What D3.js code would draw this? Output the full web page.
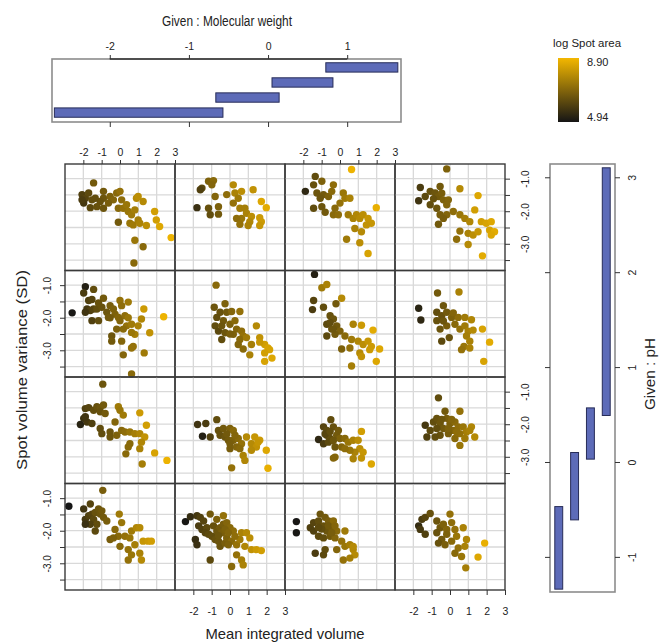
<!DOCTYPE html>
<html>
<head>
<meta charset="utf-8">
<script src="https://cdn.jsdelivr.net/npm/d3@7"></script>
<style>
body { margin: 0; background: #fff; }
svg { font-family: "Liberation Sans", Arial, sans-serif; }
.tick text { fill: #222; }
</style>
</head>
<body>
<div id="chart"></div>
<script>
// ---- values ----
const xTickVals = [-2, -1, 0, 1, 2, 3];
const xTickLabels = ["-2", "-1", "0", "1", "2", "3"];
const yTickVals = [-1, -1.5, -2, -2.5, -3, -3.5];
const yTickLabels = ["-1.0", "", "-2.0", "", "-3.0", ""];
const mwTicks = [-2, -1, 0, 1];
const mwTickLabels = ["-2", "-1", "0", "1"];
const mwIntervals = [[-2.70, -0.57], [-0.66, 0.14], [0.05, 0.82], [0.73, 1.64]];
const phTicks = [-1, 0, 1, 2, 3];
const phTickLabels = ["-1", "0", "1", "2", "3"];
const phIntervals = [[-1.34, -0.47], [-0.61, 0.10], [0.03, 0.57], [0.49, 3.10]];
const areaRange = [4.94, 8.90];
const areaLabels = ["4.94", "8.90"];

// [mean integrated volume, spot volume SD, log spot area]
// ph1 = bottom row of panels, mw1 = left column
const ph4_mw1 = [[-1.44,-1.13,6.6],[-2.07,-1.49,6.0],[-1.89,-1.60,6.1],[-1.98,-1.75,5.8],[-1.71,-1.44,6.2],[-1.53,-1.65,6.3],[-2.07,-1.65,5.9],[-1.62,-1.89,6.2],[-0.90,-1.39,6.6],[-0.90,-1.60,6.5],[-1.08,-1.70,6.4],[-1.26,-1.86,6.4],[-0.90,-1.91,6.5],[-0.54,-1.55,6.8],[-0.36,-1.65,6.9],[-0.18,-1.44,7.0],[0,-1.39,7.2],[0.09,-1.65,7.1],[-0.09,-1.91,7.0],[0.18,-1.91,7.2],[0.36,-1.80,7.3],[0.45,-2.01,7.3],[0.63,-2.11,7.4],[0.81,-1.96,7.5],[0.90,-1.60,7.8],[0.99,-1.55,7.9],[1.26,-1.70,7.8],[0.99,-2.27,7.5],[0.54,-2.37,7.3],[0.72,-2.42,7.4],[1.08,-2.37,7.6],[1.44,-2.44,7.9],[-0.09,-2.34,6.6],[1.89,-2.01,8.3],[1.98,-2.27,8.3],[2.16,-2.47,8.5],[2.79,-2.81,8.8],[0.81,-2.89,7.3],[1.26,-3.09,7.0],[0.76,-3.59,7.0],[-1.35,-1.60,6.3],[-0.63,-1.75,6.7]];
const ph4_mw2 = [[-1.53,-1.29,6.2],[-1.17,-1.08,6.8],[-0.90,-1.06,7.0],[-0.99,-1.19,6.9],[-1.62,-1.34,6.0],[-1.80,-1.89,5.6],[-1.17,-1.91,6.4],[-0.63,-1.86,6.8],[-0.63,-2.09,6.6],[-1.08,-2.11,6.3],[-0.81,-1.55,6.9],[-0.18,-1.49,7.1],[0.18,-1.19,7.8],[0.27,-1.44,7.6],[0.63,-1.39,7.9],[0.45,-1.60,7.4],[0.18,-1.75,7.2],[0.54,-1.91,7.5],[0.81,-1.91,7.5],[0.90,-2.06,7.6],[0.63,-2.22,7.3],[0.36,-2.22,7.1],[1.17,-2.16,7.9],[1.62,-2.20,8.2],[1.71,-2.32,8.2],[1.08,-2.32,7.7],[0.54,-2.40,7.2],[0.99,-2.44,7.6],[1.62,-2.44,8.1],[1.71,-1.70,8.5],[1.98,-1.89,8.6],[1.26,-1.34,8.0]];
const ph4_mw3 = [[-1.35,-0.93,6.3],[-1.89,-1.39,5.4],[-1.44,-1.19,6.4],[-0.99,-1.08,6.8],[-1.26,-1.44,6.5],[-0.90,-1.49,6.6],[-0.63,-1.55,6.8],[-0.36,-1.19,7.1],[-0.45,-1.39,7.0],[-1.44,-1.91,6.3],[-0.99,-1.86,6.5],[-0.81,-2.03,6.6],[-0.36,-2.11,7.0],[-0.09,-2.11,7.1],[-0.27,-1.91,7.0],[0,-1.75,7.2],[0.18,-1.44,7.3],[0.27,-1.60,7.4],[0.54,-1.60,7.6],[0.45,-2.11,7.4],[0.72,-2.22,7.6],[0.90,-2.11,7.7],[1.08,-2.22,7.8],[1.26,-2.11,7.9],[1.53,-2.22,8.1],[1.71,-2.37,8.1],[1.44,-2.42,8.0],[0.81,-2.53,7.6],[1.17,-2.63,7.8],[0.63,-0.72,8.8],[1.98,-1.89,8.7],[0.36,-2.86,7.4],[1.08,-2.97,7.9],[1.53,-3.30,8.4],[-1.08,-1.60,6.5]];
const ph4_mw4 = [[-0.18,-0.70,6.8],[-1.62,-1.27,5.9],[-1.71,-1.68,5.7],[-1.35,-1.55,6.2],[-1.08,-1.39,6.4],[-0.81,-1.44,6.5],[-0.54,-1.24,6.6],[-0.63,-1.55,6.6],[-0.36,-1.65,6.8],[-0.09,-1.65,6.9],[-0.18,-1.80,6.9],[-1.08,-1.80,6.3],[-0.72,-1.91,6.5],[0.18,-2.01,7.1],[0.54,-2.11,7.3],[0.81,-2.22,7.5],[1.08,-2.32,7.7],[-0.18,-2.11,6.9],[-0.36,-2.22,6.7],[-0.54,-2.11,6.7],[0.54,-1.31,7.8],[1.53,-1.52,8.5],[1.35,-1.96,8.3],[-0.63,-2.40,6.6],[0.54,-2.61,7.2],[0.99,-2.68,7.6],[1.26,-2.73,7.9],[1.53,-2.63,8.1],[1.71,-2.32,8.3],[1.98,-2.37,8.4],[2.25,-2.32,8.5],[2.16,-2.58,8.4],[2.43,-2.63,8.6],[2.25,-2.73,8.5],[0.36,-2.86,7.1],[0.99,-3.02,7.8],[1.77,-3.37,8.6],[-0.90,-1.62,6.4],[-0.45,-1.45,6.7]];

const ph3_mw1 = [[-2.61,-1.85,5.0],[-1.89,-1.05,5.2],[-1.98,-1.24,5.9],[-1.44,-1.13,6.3],[-1.71,-1.47,6.0],[-1.53,-1.44,6.1],[-1.80,-1.73,5.8],[-1.62,-1.78,6.0],[-1.89,-1.83,5.7],[-1.44,-1.73,6.1],[-1.53,-2.09,6.0],[-1.17,-2.09,6.3],[-1.26,-1.73,6.3],[-0.90,-1.40,6.6],[-0.99,-1.68,6.4],[-0.72,-1.83,6.5],[-0.63,-1.99,6.6],[-0.54,-1.63,6.7],[-0.36,-1.73,6.8],[-0.27,-1.89,6.8],[0,-1.47,7.2],[0.09,-1.63,7.1],[0.45,-1.52,7.4],[0.27,-1.94,7.1],[-0.09,-1.99,6.9],[0,-2.09,6.9],[0.36,-2.25,7.2],[0.18,-2.35,7.0],[-0.18,-2.35,6.8],[-0.45,-2.56,6.5],[-0.45,-2.72,6.6],[0.09,-2.72,6.9],[0.63,-2.20,7.4],[0.81,-2.51,7.5],[0.99,-2.25,7.6],[1.17,-2.04,7.7],[1.30,-1.73,8.2],[1.62,-2.46,8.0],[2.38,-1.97,8.8],[0.72,-2.88,7.2],[0.18,-3.14,6.9],[0.63,-2.93,7.2],[1.32,-3.08,7.4],[0.63,-3.73,7.0],[-0.54,-2.00,6.6],[0.45,-2.00,7.3],[-1.17,-1.55,6.4],[0.63,-2.45,7.3]];
const ph3_mw2 = [[-0.76,-1.00,7.0],[-0.86,-1.68,6.5],[-0.27,-1.57,6.8],[-0.54,-1.83,6.4],[-0.18,-1.83,6.6],[0.09,-1.81,6.9],[0.54,-1.81,7.2],[-0.72,-1.99,6.3],[-0.36,-2.09,6.6],[-0.81,-2.25,6.3],[-0.63,-2.41,6.2],[-0.45,-2.67,6.3],[-0.27,-2.46,6.5],[0,-2.20,6.8],[0.27,-2.09,7.0],[0.36,-2.35,6.9],[0.18,-2.51,6.8],[0.63,-2.41,7.1],[0.72,-2.56,7.2],[0.54,-2.67,7.0],[0.90,-2.61,7.4],[0.45,-2.82,6.9],[0.72,-2.96,7.0],[1.17,-2.82,7.5],[1.08,-3.14,7.6],[1.44,-2.25,7.8],[1.62,-2.61,8.0],[1.89,-2.82,8.3],[2.07,-2.93,8.4],[2.16,-2.98,8.4],[1.89,-3.08,8.3],[2.29,-3.24,8.5],[1.89,-3.34,8.4],[1.62,-2.75,8.1],[-0.45,-2.25,6.5],[0.0,-2.50,6.7]];
const ph3_mw3 = [[-1.39,-0.67,5.2],[-0.99,-1.08,7.4],[-0.72,-0.98,7.6],[-1.44,-1.47,6.1],[-1.50,-1.75,5.9],[-0.90,-1.68,6.3],[-0.22,-1.57,6.6],[0.09,-1.40,7.8],[-0.54,-1.94,6.4],[-0.36,-2.04,6.5],[-0.72,-2.20,6.2],[-0.45,-2.35,6.4],[-0.72,-2.56,6.2],[-0.18,-2.25,6.6],[0,-2.41,6.8],[-0.27,-2.51,6.6],[0.27,-2.56,7.0],[0.72,-2.20,7.6],[1.17,-2.23,8.2],[1.80,-2.38,8.6],[0.63,-2.67,7.4],[0.99,-2.72,7.7],[1.26,-2.82,7.9],[1.53,-2.72,8.1],[1.71,-2.88,8.2],[2.16,-2.96,8.5],[1.62,-2.98,8.2],[1.08,-3.08,7.8],[0.54,-2.93,7.2],[0.09,-2.96,6.8],[1.17,-3.19,8.0],[0.63,-3.48,7.5],[1.98,-3.34,8.5],[-0.54,-2.15,6.3],[-0.36,-2.35,6.5]];
const ph3_mw4 = [[-1.71,-1.71,5.3],[-1.59,-2.07,5.4],[-0.68,-1.24,6.6],[0.49,-1.21,7.6],[-0.36,-1.63,6.5],[-0.72,-1.83,6.3],[-0.45,-1.94,6.4],[-0.18,-1.83,6.6],[0.09,-1.99,6.8],[0.45,-1.99,7.1],[0.81,-1.99,7.4],[1.17,-2.06,7.7],[-0.72,-2.09,6.4],[-0.54,-2.35,6.5],[-0.18,-2.25,6.7],[0.27,-2.20,7.0],[0.54,-2.35,7.2],[0.81,-2.25,7.4],[0.99,-2.41,7.6],[1.26,-2.38,7.8],[0.90,-2.56,7.5],[1.08,-2.72,7.6],[0.76,-2.88,7.3],[0.63,-2.98,7.2],[1.08,-2.93,7.6],[1.77,-2.35,8.4],[2.16,-2.75,8.6],[1.84,-3.34,8.4],[-0.45,-2.72,6.2],[-0.04,-2.61,6.4],[-0.36,-2.10,6.5],[0.18,-1.85,6.9]];

const ph2_mw1 = [[-0.94,-0.77,6.5],[-1.89,-1.52,6.0],[-1.71,-1.49,6.1],[-1.44,-1.57,6.3],[-1.26,-1.46,6.4],[-1.08,-1.49,6.5],[-0.90,-1.41,6.6],[-1.08,-1.62,6.4],[-0.81,-1.67,6.6],[-1.98,-1.82,5.6],[-1.80,-1.93,5.8],[-2.16,-2.01,5.3],[-1.53,-1.98,6.0],[-1.89,-1.77,5.7],[-1.08,-2.13,6.3],[-0.99,-2.29,6.3],[-0.54,-2.24,6.5],[-0.54,-2.39,6.5],[-0.27,-1.93,6.9],[-0.09,-1.46,7.4],[0,-1.57,7.3],[0.18,-1.72,7.4],[-0.18,-2.34,6.8],[0.09,-2.19,7.0],[0.27,-2.24,7.1],[0.54,-2.24,7.3],[0.81,-2.29,7.5],[1.08,-2.29,7.7],[1.08,-1.65,8.2],[1.44,-2.03,8.3],[1.35,-2.39,8.0],[0.54,-2.60,7.0],[0.45,-2.70,7.0],[1.08,-2.75,7.6],[1.17,-2.55,7.7],[0.32,-2.91,7.0],[1.89,-2.88,8.4],[2.56,-3.11,8.8],[1.21,-3.22,7.5]];
const ph2_mw2 = [[-1.77,-2.01,5.7],[-1.32,-1.98,5.9],[-0.72,-1.86,6.3],[-1.50,-2.37,5.2],[-1.08,-2.39,6.0],[-0.63,-2.19,6.4],[-0.36,-2.13,6.6],[0,-2.13,6.8],[0.18,-2.19,7.0],[-0.54,-2.34,6.4],[-0.27,-2.39,6.5],[-0.09,-2.49,6.6],[0.18,-2.49,6.8],[0.45,-2.44,7.0],[0.63,-2.60,7.2],[0.36,-2.70,6.9],[0,-2.75,6.7],[0.54,-2.75,7.0],[0.90,-2.39,7.8],[1.35,-2.39,8.1],[1.62,-2.49,8.2],[1.17,-2.60,7.8],[1.44,-2.70,8.0],[1.17,-2.80,7.8],[1.98,-2.80,8.5],[0.72,-2.96,7.6],[0.81,-3.11,7.7],[0.09,-3.34,7.2],[2.07,-3.35,8.7],[1.53,-2.55,8.1],[-0.18,-2.30,6.6],[0.27,-2.34,6.9],[0.0,-2.60,6.7]];
const ph2_mw3 = [[-0.50,-1.86,6.3],[-0.90,-2.08,6.1],[-0.72,-2.19,6.2],[-0.36,-2.08,6.4],[-0.09,-2.19,6.6],[-1.17,-2.47,5.4],[-0.90,-2.60,5.9],[-0.72,-2.34,6.1],[-0.54,-2.44,6.3],[-0.18,-2.34,6.6],[0,-2.44,6.8],[0.27,-2.44,7.0],[-0.27,-2.70,6.5],[0.09,-2.70,6.9],[0.45,-2.55,7.3],[0.72,-2.49,7.6],[1.17,-2.22,8.3],[0.99,-2.49,7.9],[1.08,-2.75,7.9],[0.81,-2.86,7.6],[0.54,-2.80,7.3],[1.26,-2.86,8.1],[1.17,-3.04,8.0],[0.72,-3.06,7.6],[-0.27,-3.01,7.0],[-0.36,-3.04,6.9],[1.71,-3.22,8.5],[0.27,-2.75,7.1],[-0.81,-2.30,6.1],[-0.54,-2.22,6.3],[-0.63,-2.55,6.2],[-0.36,-2.50,6.5]];
const ph2_mw4 = [[-0.63,-1.19,6.3],[-0.27,-1.60,6.6],[0.54,-1.60,7.2],[-1.35,-2.03,5.8],[-1.26,-2.39,6.0],[-1.08,-2.19,6.2],[-0.90,-1.93,6.3],[-0.72,-1.82,6.4],[-0.54,-1.98,6.5],[-0.36,-2.13,6.6],[-0.18,-1.82,6.7],[0,-1.98,6.8],[0.18,-2.19,6.9],[0.27,-1.93,7.0],[0.45,-2.08,7.1],[0.72,-2.08,7.3],[0.90,-2.24,7.5],[1.17,-2.08,7.7],[1.35,-2.39,7.8],[0.54,-2.29,7.2],[0.81,-2.44,7.4],[0.54,-2.65,7.3],[0.27,-2.44,7.0],[-0.09,-2.29,6.7],[-0.54,-2.34,6.4],[-0.81,-2.39,6.3],[1.08,-2.19,7.6],[-0.45,-1.85,6.5],[-0.09,-2.13,6.8],[0.36,-2.24,7.1],[-0.72,-2.13,6.3],[0.09,-1.85,6.9]];

const ph1_mw1 = [[-2.79,-1.25,4.94],[-0.94,-0.76,6.7],[-1.98,-1.33,5.7],[-1.62,-1.18,6.1],[-1.89,-1.65,5.8],[-1.71,-1.54,6.0],[-1.53,-1.49,6.1],[-1.44,-1.65,6.2],[-1.35,-1.44,6.4],[-1.17,-1.33,6.5],[-1.08,-1.49,6.5],[-0.99,-1.39,6.6],[-0.90,-1.59,6.6],[-0.72,-1.70,6.7],[-1.26,-1.80,6.3],[-1.62,-1.80,6.0],[-1.89,-1.80,5.6],[-1.35,-2.01,6.2],[-0.04,-1.49,7.4],[0.09,-1.75,7.3],[-0.27,-1.96,7.0],[-0.09,-2.17,7.0],[0.27,-2.17,7.2],[-0.54,-2.27,6.7],[-0.36,-2.22,6.8],[0,-2.48,7.0],[0.54,-2.22,7.3],[0.63,-2.01,7.4],[0.90,-1.91,7.7],[1.08,-1.91,7.8],[1.26,-2.32,8.1],[1.53,-2.32,8.2],[1.71,-2.32,8.3],[0.81,-2.43,7.5],[1.08,-2.69,7.6],[0.45,-2.58,7.2],[0.45,-2.90,7.2],[1.17,-2.90,7.8],[0.63,-2.74,7.3]];
const ph1_mw2 = [[-2.43,-1.72,5.0],[-2.16,-1.57,5.5],[-1.80,-1.54,5.8],[-1.62,-1.59,6.0],[-1.89,-2.27,5.5],[-1.71,-1.85,5.9],[-1.53,-1.96,6.0],[-1.26,-1.91,6.2],[-1.35,-2.06,6.1],[-1.17,-2.11,6.2],[-1.08,-1.49,6.6],[-0.72,-1.65,6.8],[-0.36,-1.54,7.2],[-1.44,-1.70,6.1],[-0.90,-1.85,6.4],[-0.72,-2.01,6.5],[-0.54,-1.91,6.6],[-0.36,-1.80,6.7],[-0.18,-1.75,6.9],[0,-1.91,7.0],[0.18,-2.01,7.1],[-0.99,-2.17,6.3],[-0.81,-2.27,6.4],[-0.63,-2.32,6.5],[-0.54,-2.48,6.5],[-0.27,-2.38,6.7],[-0.18,-2.22,6.8],[0.09,-2.32,7.0],[0.36,-2.43,7.2],[0.54,-2.27,7.4],[0.63,-2.06,7.6],[0.90,-2.06,7.8],[1.08,-2.22,7.9],[0.81,-2.48,7.7],[1.17,-2.58,8.0],[1.44,-2.58,8.2],[1.71,-2.61,8.3],[0.36,-2.74,7.2],[0.63,-2.90,7.5],[0.72,-3.05,7.6],[0.09,-3.10,7.0],[-1.08,-2.90,6.2],[-1.80,-2.43,5.6],[-0.45,-2.06,6.7],[-0.27,-1.96,6.8],[-0.09,-2.06,6.9],[-0.63,-2.15,6.5],[0.27,-2.17,7.1],[-0.09,-2.43,6.8]];
const ph1_mw3 = [[-2.38,-1.72,5.0],[-2.38,-2.06,5.0],[-1.62,-1.91,6.0],[-1.44,-1.75,6.1],[-1.17,-1.70,6.3],[-1.08,-1.49,6.5],[-0.81,-1.59,6.6],[-0.63,-1.70,6.7],[-0.36,-1.70,7.0],[-0.90,-1.85,6.4],[-0.72,-2.01,6.5],[-0.45,-1.91,6.7],[-0.18,-2.01,7.0],[-1.44,-2.01,6.0],[-1.17,-2.17,6.2],[-0.90,-2.22,6.3],[-0.54,-2.17,6.6],[-0.27,-2.22,6.9],[0.27,-2.01,7.4],[0.09,-2.32,7.2],[0.27,-2.48,7.3],[0.54,-2.43,7.5],[0.72,-2.58,7.7],[0.81,-2.74,7.8],[0.54,-2.84,7.5],[0.18,-2.90,7.2],[-0.18,-2.58,6.9],[-0.81,-2.58,6.3],[-0.90,-2.74,6.2],[-1.35,-2.69,5.9],[0.72,-2.48,7.8],[-1.00,-1.95,6.3],[-0.63,-1.85,6.6],[-0.45,-2.06,6.7],[-1.17,-1.90,6.2],[-0.27,-1.85,6.9]];
const ph1_mw4 = [[-1.71,-1.85,5.5],[-1.53,-1.65,5.9],[-1.35,-1.59,6.1],[-1.08,-1.47,6.4],[-1.62,-1.96,5.8],[-1.35,-2.11,6.0],[-0.72,-1.70,6.5],[-0.54,-1.91,6.6],[-0.72,-2.06,6.4],[-0.36,-1.80,6.8],[-0.18,-1.96,6.9],[0,-1.49,7.2],[0.09,-1.75,7.1],[0.27,-1.96,7.2],[-0.18,-2.11,6.8],[-0.45,-2.27,6.6],[-0.63,-2.38,6.4],[-0.27,-2.43,6.7],[0.09,-2.32,7.0],[0.36,-2.17,7.3],[0.45,-2.53,7.2],[0.72,-1.91,7.6],[0.90,-2.27,7.7],[0.81,-2.48,7.6],[0.63,-2.79,7.3],[0.27,-2.69,7.0],[1.89,-2.38,8.7],[1.53,-2.81,8.5],[0.86,-3.14,7.5]];

// rows listed top to bottom, as drawn
const panelRows = [
    [ph4_mw1, ph4_mw2, ph4_mw3, ph4_mw4],
    [ph3_mw1, ph3_mw2, ph3_mw3, ph3_mw4],
    [ph2_mw1, ph2_mw2, ph2_mw3, ph2_mw4],
    [ph1_mw1, ph1_mw2, ph1_mw3, ph1_mw4]
];

// ---- layout ----
const W = 659, H = 643;
const gridLeft = 65, cellW = 110, gridTop = 164, cellH = 106.5;
const barFill = "#5d6bb8", barStroke = "#272c58";

const svg = d3.select("#chart").append("svg")
    .attr("width", W)
    .attr("height", H);

let color = d3.scaleLinear().domain(areaRange).range(["#151515", "#f3b700"]);

function styleAxis(g, size){
    g.select(".domain").remove();
    g.selectAll(".tick line").attr("stroke", "#333");
    g.selectAll(".tick text").style("font-size", size + "px");
}

// rotate y labels so they read upward, like R does
function rotateLabels(g, offset){
    g.selectAll(".tick text")
        .attr("x", null).attr("y", null).attr("dy", null)
        .attr("text-anchor", "middle")
        .attr("transform", "translate(" + offset + ",0) rotate(-90)");
}

// ---- conditioning panels ----
for (let r = 0; r < 4; r++){
    for (let c = 0; c < 4; c++){
        let left = gridLeft + c * cellW,
            top = gridTop + r * cellH;
        let x = d3.scaleLinear().domain([-3, 3]).range([left, left + cellW]),
            y = d3.scaleLinear().domain([-3.82, -0.55]).range([top + cellH, top]);

        let g = svg.append("g").attr("class", "panel");

        g.selectAll(".gx").data([-2, -1, 0, 1, 2]).enter().append("line")
            .attr("x1", d => x(d)).attr("x2", d => x(d))
            .attr("y1", top).attr("y2", top + cellH)
            .attr("stroke", "#d9d9d9").attr("stroke-width", 1.3);
        g.selectAll(".gy").data(yTickVals).enter().append("line")
            .attr("x1", left).attr("x2", left + cellW)
            .attr("y1", d => y(d)).attr("y2", d => y(d))
            .attr("stroke", "#d9d9d9").attr("stroke-width", 1.3);

        g.selectAll("circle")
            .data(panelRows[r][c])
            .enter().append("circle")
            .attr("cx", d => x(d[0]))
            .attr("cy", d => y(d[1]))
            .attr("r", 3.7)
            .attr("fill", d => color(d[2]));

        g.append("rect")
            .attr("x", left).attr("y", top)
            .attr("width", cellW).attr("height", cellH)
            .attr("fill", "none").attr("stroke", "#3a3a3a").attr("stroke-width", 1.4);

        // x axes alternate top / bottom
        if (r === 0 && c % 2 === 0){
            let ax = g.append("g").attr("transform", "translate(0," + top + ")")
                .call(d3.axisTop(x).tickValues(xTickVals).tickSize(4).tickPadding(4)
                    .tickFormat((d, i) => xTickLabels[i]));
            styleAxis(ax, 10.5);
        }
        if (r === 3 && c % 2 === 1){
            let ax = g.append("g").attr("transform", "translate(0," + (top + cellH) + ")")
                .call(d3.axisBottom(x).tickValues(xTickVals).tickSize(5).tickPadding(13)
                    .tickFormat((d, i) => xTickLabels[i]));
            styleAxis(ax, 10.5);
        }
        // y axes alternate right / left
        if (c === 3 && r % 2 === 0){
            let ay = g.append("g").attr("transform", "translate(" + (left + cellW) + ",0)")
                .call(d3.axisRight(y).tickValues(yTickVals).tickSize(5)
                    .tickFormat((d, i) => yTickLabels[i]));
            styleAxis(ay, 10);
            rotateLabels(ay, 24);
        }
        if (c === 0 && r % 2 === 1){
            let ay = g.append("g").attr("transform", "translate(" + left + ",0)")
                .call(d3.axisLeft(y).tickValues(yTickVals).tickSize(5)
                    .tickFormat((d, i) => yTickLabels[i]));
            styleAxis(ay, 10);
            rotateLabels(ay, -14);
        }
    }
}

// ---- given panel: molecular weight (top) ----
let mwBox = { left: 52, right: 401, top: 59, bottom: 122 };
let mx = d3.scaleLinear().domain([-2.73, 1.68]).range([mwBox.left, mwBox.right]);
let mwBand = d3.scaleBand().domain(d3.range(mwIntervals.length))
    .range([mwBox.bottom - 4, mwBox.top + 3]).paddingInner(0.38).paddingOuter(0.05);

svg.append("rect")
    .attr("x", mwBox.left).attr("y", mwBox.top)
    .attr("width", mwBox.right - mwBox.left).attr("height", mwBox.bottom - mwBox.top)
    .attr("fill", "#fff").attr("stroke", "#8c8c8c").attr("stroke-width", 1.6);

svg.selectAll(".mwbar")
    .data(mwIntervals)
    .enter().append("rect")
    .attr("class", "mwbar")
    .attr("x", d => mx(d[0]))
    .attr("width", d => mx(d[1]) - mx(d[0]))
    .attr("y", (d, i) => mwBand(i))
    .attr("height", mwBand.bandwidth())
    .attr("fill", barFill).attr("stroke", barStroke).attr("stroke-width", 1);

let mwTop = svg.append("g").attr("transform", "translate(0," + mwBox.top + ")")
    .call(d3.axisTop(mx).tickValues(mwTicks).tickSize(4).tickPadding(5)
        .tickFormat((d, i) => mwTickLabels[i]));
styleAxis(mwTop, 10.5);
svg.append("line")
    .attr("x1", mx(mwTicks[0])).attr("x2", mx(mwTicks[mwTicks.length - 1]))
    .attr("y1", mwBox.top).attr("y2", mwBox.top)
    .attr("stroke", "#333").attr("stroke-width", 1.5);
let mwBottom = svg.append("g").attr("transform", "translate(0," + mwBox.bottom + ")")
    .call(d3.axisBottom(mx).tickValues(mwTicks).tickSize(5).tickFormat(""));
styleAxis(mwBottom, 10);

svg.append("text")
    .attr("x", 227).attr("y", 26)
    .attr("text-anchor", "middle")
    .attr("textLength", 130).attr("lengthAdjust", "spacingAndGlyphs")
    .style("font-size", "14px").attr("fill", "#222")
    .text("Given : Molecular weight");

// ---- given panel: pH (right) ----
let phBox = { left: 550, right: 615, top: 164, bottom: 592 };
let py = d3.scaleLinear().domain([-1.37, 3.14]).range([phBox.bottom, phBox.top]);
let phBand = d3.scaleBand().domain(d3.range(phIntervals.length))
    .range([phBox.left + 4, phBox.right - 4]).paddingInner(0.5).paddingOuter(0.05);

svg.append("rect")
    .attr("x", phBox.left).attr("y", phBox.top)
    .attr("width", phBox.right - phBox.left).attr("height", phBox.bottom - phBox.top)
    .attr("fill", "#fff").attr("stroke", "#8c8c8c").attr("stroke-width", 1.6);

svg.selectAll(".phbar")
    .data(phIntervals)
    .enter().append("rect")
    .attr("class", "phbar")
    .attr("x", (d, i) => phBand(i))
    .attr("width", phBand.bandwidth())
    .attr("y", d => py(d[1]))
    .attr("height", d => py(d[0]) - py(d[1]))
    .attr("fill", barFill).attr("stroke", barStroke).attr("stroke-width", 1);

let phRight = svg.append("g").attr("transform", "translate(" + phBox.right + ",0)")
    .call(d3.axisRight(py).tickValues(phTicks).tickSize(5)
        .tickFormat((d, i) => phTickLabels[i]));
styleAxis(phRight, 10.5);
rotateLabels(phRight, 21);
let phLeft = svg.append("g").attr("transform", "translate(" + phBox.left + ",0)")
    .call(d3.axisLeft(py).tickValues(phTicks).tickSize(5).tickFormat(""));
styleAxis(phLeft, 10);

svg.append("text")
    .attr("transform", "translate(655,374) rotate(-90)")
    .attr("text-anchor", "middle")
    .attr("textLength", 72).attr("lengthAdjust", "spacingAndGlyphs")
    .style("font-size", "14px").attr("fill", "#222")
    .text("Given : pH");

// ---- colour key ----
let defs = svg.append("defs");
let grad = defs.append("linearGradient")
    .attr("id", "areaGrad")
    .attr("x1", 0).attr("x2", 0).attr("y1", 1).attr("y2", 0);
grad.selectAll("stop")
    .data(d3.range(0, 1.01, 0.25))
    .enter().append("stop")
    .attr("offset", d => d)
    .attr("stop-color", d => color(areaRange[0] + d * (areaRange[1] - areaRange[0])));

let key = d3.scaleLinear().domain(areaRange).range([122, 58]);
svg.append("rect")
    .attr("x", 558).attr("y", key(areaRange[1]))
    .attr("width", 21).attr("height", key(areaRange[0]) - key(areaRange[1]))
    .attr("fill", "url(#areaGrad)");
svg.selectAll(".keylab")
    .data(areaRange)
    .enter().append("text")
    .attr("class", "keylab")
    .attr("x", 587)
    .attr("y", (d, i) => key(d) + (i === 0 ? -1 : 8))
    .style("font-size", "11px").attr("fill", "#222")
    .text((d, i) => areaLabels[i]);
svg.append("text")
    .attr("x", 587).attr("y", 47)
    .attr("text-anchor", "middle")
    .attr("textLength", 68).attr("lengthAdjust", "spacingAndGlyphs")
    .style("font-size", "10px").attr("fill", "#222")
    .text("log Spot area");

// ---- outer axis titles ----
svg.append("text")
    .attr("x", 285).attr("y", 639)
    .attr("text-anchor", "middle")
    .attr("textLength", 159).attr("lengthAdjust", "spacingAndGlyphs")
    .style("font-size", "15px").attr("fill", "#222")
    .text("Mean integrated volume");

svg.append("text")
    .attr("transform", "translate(27,370) rotate(-90)")
    .attr("text-anchor", "middle")
    .attr("textLength", 200).attr("lengthAdjust", "spacingAndGlyphs")
    .style("font-size", "15px").attr("fill", "#222")
    .text("Spot volume variance (SD)");
</script>
</body>
</html>
